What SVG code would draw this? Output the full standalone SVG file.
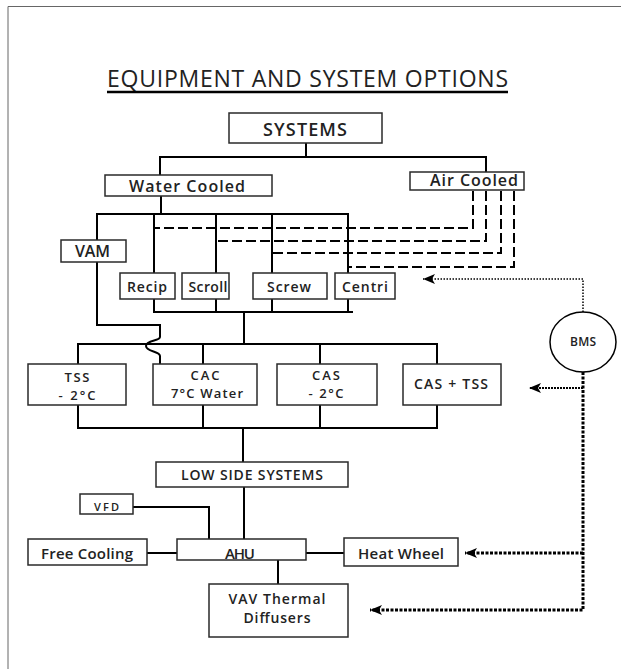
<svg xmlns="http://www.w3.org/2000/svg" width="621" height="669" viewBox="0 0 621 669">
<defs>
<style>
.box{fill:#fff;stroke:#2a2a2a;stroke-width:1.5}
.ln{fill:none;stroke:#000;stroke-width:2;stroke-linecap:square}
.dash{fill:none;stroke:#000;stroke-width:2;stroke-dasharray:10 4}
.dotA{fill:none;stroke:#000;stroke-width:1.5;stroke-dasharray:1.5 1.5}
.dotB{fill:none;stroke:#000;stroke-width:2;stroke-dasharray:2 1}
.dotC{fill:none;stroke:#000;stroke-width:3;stroke-dasharray:3 1.5}
text{font-family:"Open Sans","DejaVu Sans",sans-serif;fill:#222;text-anchor:middle;font-weight:600}
.t13{font-size:13px}.t14{font-size:14px}.t15{font-size:15px}.t16{font-size:16px}
</style>
<marker id="ah" markerUnits="userSpaceOnUse" markerWidth="12" markerHeight="10" refX="12" refY="5" orient="auto">
<path d="M0,0 L12,5 L0,10 L3,5 z" fill="#000"/>
</marker>
</defs>
<rect width="621" height="669" fill="#fff"/>
<path d="M8,669 V6.5 H621" fill="none" stroke="#666" stroke-width="1"/>
<g id="title">
<text x="307.5" y="87" style="font-size:23px;font-weight:500" textLength="401">EQUIPMENT AND SYSTEM OPTIONS</text>
<line x1="107" y1="92" x2="508" y2="92" stroke="#000" stroke-width="2.5"/>
</g>
<g id="connectors">
<path class="ln" d="M306,143 V157 M160,157 H486 M160,157 V175 M486,157 V172"/>
<path class="ln" d="M161,196 V214 M97,214 H348"/>
<path class="ln" d="M97,214 V325 H160 V337 C160,341 146,340 146,346 C146,352 160,351 160,356 V364"/>
<path class="ln" d="M154,214 V312 M216,214 V312 M272,214 V312 M348,214 V312 M154,312 H352"/>
<path class="ln" d="M244,312 V344 M78,344 H437 M78,344 V428 M203,344 V428 M320,344 V428 M437,344 V428 M78,428 H437"/>
<path class="ln" d="M243,428 V462 M244,487 V539"/>
<path class="ln" d="M133,507 H209 V539 M147,553 H177 M306,553 H344 M278,560 V584"/>
<path class="dash" d="M473,191 V228 H154"/>
<path class="dash" d="M486,191 V241 H216"/>
<path class="dash" d="M501,191 V253 H272"/>
<path class="dash" d="M514,191 V267 H348"/>
<path class="dotA" d="M583,312 V279 H423" marker-end="url(#ah)"/>
<path class="dotC" d="M583,372 V610 H370" marker-end="url(#ah)"/>
<path class="dotB" d="M583,388 H529" marker-end="url(#ah)"/>
<path class="dotC" d="M583,553 H465" marker-end="url(#ah)"/>
</g>
<g id="systems"><rect class="box" x="229" y="113" width="153" height="30"/><text x="305" y="136" style="font-size:18px" textLength="84">SYSTEMS</text></g>
<g id="water-cooled"><rect class="box" x="105" y="175" width="167" height="21"/><text class="t16" x="187" y="192" textLength="116">Water Cooled</text></g>
<g id="air-cooled"><rect class="box" x="410" y="172" width="114" height="18"/><text class="t16" x="474" y="186" textLength="88">Air Cooled</text></g>
<g id="vam"><rect class="box" x="61" y="240" width="65" height="22"/><text class="t16" x="92.5" y="257" textLength="35">VAM</text></g>
<g id="recip"><rect class="box" x="120" y="273" width="55" height="26"/><text class="t14" x="147" y="292" textLength="40">Recip</text></g>
<g id="scroll"><rect class="box" x="182" y="273" width="47" height="26"/><text class="t14" x="208" y="292" textLength="39">Scroll</text></g>
<g id="screw"><rect class="box" x="253" y="273" width="74" height="26"/><text class="t14" x="289" y="292" textLength="44">Screw</text></g>
<g id="centri"><rect class="box" x="335" y="273" width="60" height="26"/><text class="t14" x="365" y="292" textLength="46">Centri</text></g>
<g id="tss"><rect class="box" x="28" y="364" width="98" height="41"/><text class="t13" x="77" y="382" textLength="25">TSS</text><text class="t13" x="77" y="400" textLength="37">- 2°C</text></g>
<g id="cac"><rect class="box" x="153" y="364" width="104" height="41"/><text class="t13" x="205" y="380" textLength="29">CAC</text><text class="t13" x="207" y="398" textLength="72">7°C Water</text></g>
<g id="cas"><rect class="box" x="277" y="364" width="100" height="41"/><text class="t13" x="326" y="380" textLength="28">CAS</text><text class="t13" x="326" y="398" textLength="35">- 2°C</text></g>
<g id="cas-tss"><rect class="box" x="403" y="364" width="98" height="41"/><text class="t14" x="451" y="389" textLength="74">CAS + TSS</text></g>
<g id="low-side"><rect class="box" x="156" y="462" width="192" height="25"/><text class="t14" x="252" y="480" textLength="142">LOW SIDE SYSTEMS</text></g>
<g id="vfd"><rect class="box" x="80" y="494" width="53" height="20"/><text x="106.5" y="511" style="font-size:11px" textLength="25">VFD</text></g>
<g id="free-cooling"><rect class="box" x="28" y="539" width="119" height="26"/><text class="t15" x="87" y="559" textLength="92">Free Cooling</text></g>
<g id="ahu"><rect class="box" x="177" y="539" width="129" height="21"/><text class="t15" x="240" y="559" textLength="30">AHU</text></g>
<g id="heat-wheel"><rect class="box" x="344" y="538" width="114" height="28"/><text class="t15" x="401" y="559" textLength="86">Heat Wheel</text></g>
<g id="vav"><rect class="box" x="209" y="584" width="139" height="53"/><text class="t14" x="277" y="604" textLength="97">VAV Thermal</text><text class="t14" x="277" y="623" textLength="67">Diffusers</text></g>
<g id="bms"><ellipse cx="583" cy="342" rx="33" ry="30" fill="#fff" stroke="#000" stroke-width="1.5"/><text x="583" y="346" style="font-size:12px" textLength="26">BMS</text></g>
</svg>
